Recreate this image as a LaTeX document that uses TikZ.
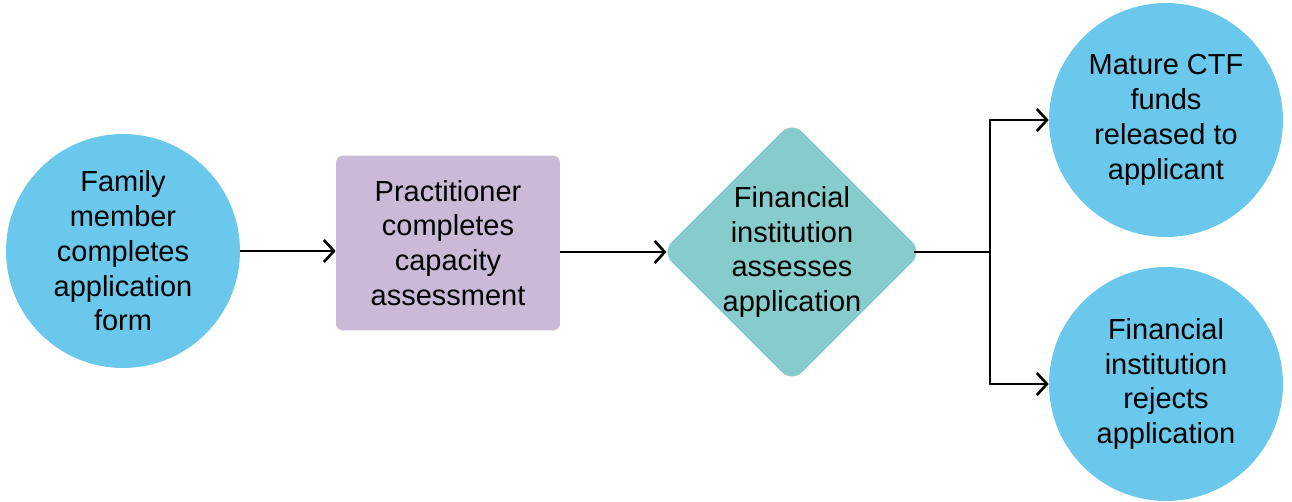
\documentclass[tikz,border=0pt]{standalone}
\usepackage{fontspec}
\setmainfont{Liberation Sans}
\usetikzlibrary{shapes.geometric,arrows.meta}
\usepackage{xcolor}

\definecolor{kreisblau}{RGB}{106,200,236}
\definecolor{lila}{RGB}{202,186,216}
\definecolor{tuerkis}{RGB}{134,204,204}

\begin{document}
\begin{tikzpicture}[x=0.02cm,y=-0.02cm,>={Straight Barb[length=2mm,width=4.4mm]},
  every node/.style={align=center,font=\fontsize{16.5}{19.8}\selectfont,inner sep=0pt},
  kreis/.style={circle,fill=kreisblau,minimum size=4.68cm},
  kasten/.style={rectangle,rounded corners=4pt,fill=lila,minimum width=4.48cm,minimum height=3.5cm},
  raute/.style={diamond,rounded corners=8pt,fill=tuerkis,inner sep=-1.3pt},
  pfeil/.style={->,line width=1.5pt}]

\useasboundingbox (0,0) rectangle (1292,501);

%Knoten
\node[kreis] (familie) at (123,251) {Family\\member\\completes\\application\\form};
\node[kasten] (praktiker) at (448,243) {Practitioner\\completes\\capacity\\assessment};
\node[raute] (bank) at (792,252) {Financial\\institution\\assesses\\application};
\node[kreis] (auszahlung) at (1166,120) {Mature CTF\\funds\\released to\\applicant};
\node[kreis] (ablehnung) at (1166,384) {Financial\\institution\\rejects\\application};
\coordinate (gabel) at (990,252);

%Pfeile
\draw[pfeil] (familie) -- (praktiker.west |- familie);
\draw[pfeil,shorten >=-3pt] (praktiker.east |- bank) -- (bank);
\draw[line width=1.5pt,shorten <=-5pt] (bank) -- (gabel);
\draw[pfeil] (gabel) |- (auszahlung);
\draw[pfeil] (gabel) |- (ablehnung);

\end{tikzpicture}
\end{document}
